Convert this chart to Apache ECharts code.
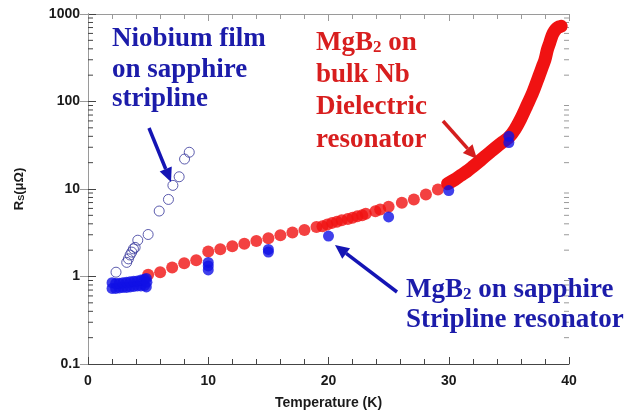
<!DOCTYPE html>
<html>
<head>
<meta charset="utf-8">
<script src="https://cdn.jsdelivr.net/npm/echarts@6/dist/echarts.min.js"></script>
<style>
  html,body{margin:0;padding:0;background:#fff;}
  #main{width:632px;height:416px;}
</style>
</head>
<body>
<div id="main"></div>
<script>
// MgB2 on bulk Nb, dielectric resonator (discrete points)
var redT  = [5, 6, 7, 8, 9, 10, 11, 12, 13, 14, 15, 16, 17, 18, 19, 19.5, 19.9, 20.3, 20.7, 21.1, 21.6, 22.0, 22.4, 22.8, 23.1, 23.9, 24.3, 25.0, 26.1, 27.1, 28.1, 29.1];
var redRs = [1.05, 1.12, 1.27, 1.42, 1.53, 1.93, 2.05, 2.22, 2.37, 2.55, 2.74, 2.96, 3.18, 3.40, 3.68, 3.76, 3.93, 4.10, 4.22, 4.40, 4.55, 4.69, 4.89, 5.02, 5.21, 5.58, 5.83, 6.27, 6.95, 7.6, 8.65, 9.87];
// dense part of the same measurement (30 K .. Tc)
var denseT  = [29.9, 30.5, 31.0, 31.5, 32.0, 32.5, 33.0, 33.5, 34.0, 34.5, 35.0, 35.5, 36.0, 36.5, 37.0, 37.5, 37.8, 38.0, 38.2, 38.4, 38.6, 38.8, 39.0, 39.2, 39.35];
var denseRs = [11.5, 12.8, 14.3, 15.9, 18.0, 20.5, 23.5, 26.8, 30.5, 34.5, 39, 48, 64, 90, 128, 195, 253, 300, 390, 470, 570, 640, 690, 715, 725];
// MgB2 on sapphire, stripline resonator
var blueT  = [2.0, 2.3, 2.6, 2.9, 3.2, 3.5, 3.8, 4.1, 4.4, 4.7, 4.85, 2.0, 2.3, 2.6, 2.9, 3.2, 3.5, 3.8, 4.1, 4.4, 4.7, 4.85, 4.9, 10, 10, 10, 15, 15, 20, 25, 30, 35, 35];
var blueRs = [0.73, 0.73, 0.74, 0.75, 0.75, 0.76, 0.77, 0.78, 0.78, 0.79, 0.76, 0.85, 0.83, 0.84, 0.85, 0.86, 0.87, 0.88, 0.89, 0.91, 0.93, 0.95, 0.86, 1.45, 1.32, 1.19, 2.04, 1.90, 2.9, 4.8, 9.6, 40, 34];
// Niobium film on sapphire stripline
var nbT  = [2.33, 3.22, 3.36, 3.5, 3.64, 3.78, 3.92, 4.14, 5.0, 5.92, 6.69, 7.06, 7.58, 8.03, 8.42];
var nbRs = [1.12, 1.45, 1.59, 1.76, 1.9, 2.07, 2.15, 2.6, 3.02, 5.6, 7.6, 11.0, 13.8, 22.0, 26.3];
// log axis minor tick values
var minorVals = [0.2,0.3,0.4,0.5,0.6,0.7,0.8,0.9, 2,3,4,5,6,7,8,9, 20,30,40,50,60,70,80,90, 200,300,400,500,600,700,800,900];

function pairs(xs, ys){
    var out = [];
    for (var i = 0; i < xs.length; i++) out.push([xs[i], ys[i]]);
    return out;
}

var RED = '#f01212';
var BLUE = '#1010e6';
var TXTBLUE = '#1c1caa';
var TXTRED = '#d81e1e';

function arrow(x1, y1, x2, y2, color){
    var a = Math.atan2(y2 - y1, x2 - x1);
    var hl = 14, hw = 6.5;
    var bx = x2 - hl * Math.cos(a), by = y2 - hl * Math.sin(a);
    var nx = -Math.sin(a), ny = Math.cos(a);
    return [{
        type: 'line', silent: true, z: 50,
        shape: {x1: x1, y1: y1, x2: bx, y2: by},
        style: {stroke: color, lineWidth: 3.5}
    }, {
        type: 'polygon', silent: true, z: 50,
        shape: {points: [[x2, y2], [bx + nx * hw, by + ny * hw], [bx - nx * hw, by - ny * hw]]},
        style: {fill: color}
    }];
}

function label(x, y, text, color){
    return {
        type: 'text', silent: true, z: 60, x: x, y: y,
        style: {
            text: text, fill: color, verticalAlign: 'middle',
            font: 'bold 27px "Liberation Serif"',
            rich: {
                n: {fontFamily: 'Liberation Serif', fontWeight: 'bold', fontSize: 27, lineHeight: 27, fill: color},
                sub: {fontFamily: 'Liberation Serif', fontWeight: 'bold', fontSize: 17, lineHeight: 11, verticalAlign: 'bottom', fill: color}
            }
        }
    };
}

var graphics = []
    .concat(arrow(149, 128, 171, 182, '#1414b4'))
    .concat(arrow(443, 121, 477, 159, '#d41e1e'))
    .concat(arrow(397, 292, 335, 245, '#1414b4'))
    .concat([
        label(112, 39, 'Niobium film', TXTBLUE),
        label(112, 70, 'on sapphire', TXTBLUE),
        label(112, 99, 'stripline', TXTBLUE),
        label(316, 43, '{n|MgB}{sub|2}{n| on}', TXTRED),
        label(316, 75, 'bulk Nb', TXTRED),
        label(316, 107, 'Dielectric', TXTRED),
        label(316, 140, 'resonator', TXTRED),
        label(406, 290, '{n|MgB}{sub|2}{n| on sapphire}', TXTBLUE),
        label(406, 320, 'Stripline resonator', TXTBLUE)
    ]);

var tickFont = {color: '#1a1a1a', fontFamily: 'Liberation Sans', fontWeight: 'bold', fontSize: 14};

var chart = echarts.init(document.getElementById('main'), null, {renderer: 'canvas'});
chart.setOption({
    animation: false,
    backgroundColor: '#fff',
    grid: {left: 88, right: 63, top: 14, bottom: 52},
    xAxis: [{
        type: 'value', min: 0, max: 40, interval: 10,
        name: 'Temperature (K)', nameLocation: 'middle', nameGap: 32,
        nameTextStyle: {color: '#1a1a1a', fontFamily: 'Liberation Sans', fontWeight: 'bold', fontSize: 14},
        axisLine: {lineStyle: {color: '#444', width: 1}},
        axisTick: {inside: true, length: 7, lineStyle: {color: '#444'}},
        minorTick: {show: true, splitNumber: 5, length: 5, lineStyle: {color: '#444'}},
        axisLabel: Object.assign({margin: 10}, tickFont),
        splitLine: {show: false}
    }, {
        type: 'value', position: 'top', min: 0, max: 40, interval: 10,
        axisLine: {lineStyle: {color: '#9a9a9a', width: 1}},
        axisTick: {inside: true, length: 7, lineStyle: {color: '#9a9a9a'}},
        minorTick: {show: true, splitNumber: 5, length: 5, lineStyle: {color: '#9a9a9a'}},
        axisLabel: {show: false},
        splitLine: {show: false}
    }],
    yAxis: [{
        type: 'log', logBase: 10, min: 0.1, max: 1000, interval: 1,
        name: '{r|R}{s|S}{r|(μΩ)}', nameLocation: 'middle', nameGap: 62, nameRotate: 90,
        nameTextStyle: {
            rich: {
                r: {fontFamily: 'Liberation Sans', fontWeight: 'bold', fontSize: 13, lineHeight: 13, color: '#1a1a1a'},
                s: {fontFamily: 'Liberation Sans', fontWeight: 'bold', fontSize: 9, lineHeight: 4, verticalAlign: 'bottom', color: '#1a1a1a'}
            }
        },
        axisLine: {show: true, lineStyle: {color: '#444', width: 1}},
        axisTick: {inside: true, length: 8, lineStyle: {color: '#444'}},
        axisLabel: Object.assign({margin: 8, formatter: function(v){ return String(+v.toPrecision(3)); }}, tickFont),
        splitLine: {show: false}
    }, {
        type: 'log', logBase: 10, min: 0.1, max: 1000, interval: 1, position: 'right',
        axisLine: {show: true, lineStyle: {color: '#9a9a9a', width: 1}},
        axisTick: {inside: true, length: 8, lineStyle: {color: '#9a9a9a'}},
        axisLabel: {show: false},
        splitLine: {show: false}
    }],
    series: [{
        // minor ticks of the log axes (2..9 of each decade)
        type: 'custom', silent: true, z: 1,
        data: minorVals.map(function(v){ return [0, v]; }),
        renderItem: function(params, api){
            var v = api.value(1);
            var p = api.coord([0, v]);
            var q = api.coord([40, v]);
            return {type: 'group', children: [
                {type: 'line', shape: {x1: p[0], y1: p[1], x2: p[0] + 5, y2: p[1]}, style: {stroke: '#444', lineWidth: 1}},
                {type: 'line', shape: {x1: q[0] - 5, y1: q[1], x2: q[0], y2: q[1]}, style: {stroke: '#9a9a9a', lineWidth: 1}}
            ]};
        }
    }, {
        name: 'MgB2 bulk Nb dense', type: 'line', smooth: 0.3,
        data: pairs(denseT, denseRs), showSymbol: false, z: 3,
        lineStyle: {color: RED, width: 13, cap: 'round', join: 'round'}
    }, {
        name: 'MgB2 bulk Nb', type: 'scatter', symbol: 'circle', symbolSize: 12, z: 3,
        data: pairs(redT, redRs), itemStyle: {color: RED}
    }, {
        name: 'MgB2 sapphire', type: 'scatter', symbol: 'circle', symbolSize: 11, z: 4,
        data: pairs(blueT, blueRs), itemStyle: {color: BLUE}
    }, {
        name: 'Nb film', type: 'scatter', symbol: 'circle', symbolSize: 10, z: 5,
        data: pairs(nbT, nbRs),
        itemStyle: {color: 'rgba(255,255,255,0)', borderColor: '#34349a', borderWidth: 1}
    }],
    graphic: graphics
});
</script>
</body>
</html>
